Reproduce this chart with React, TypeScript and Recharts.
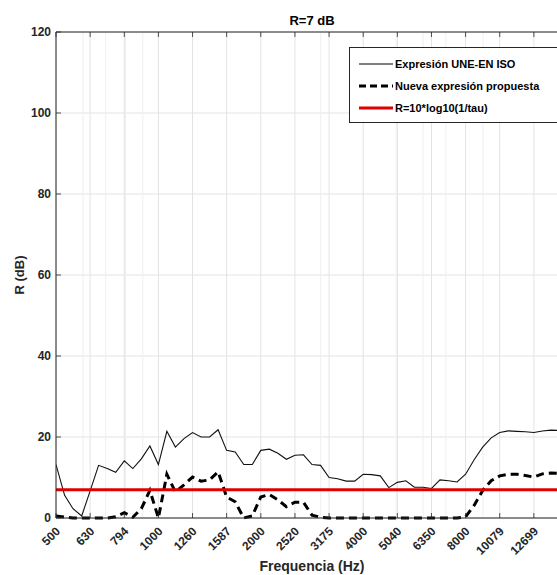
import React from "react";
import {
  CartesianGrid,
  Label,
  Legend,
  Line,
  LineChart,
  ReferenceLine,
  XAxis,
  YAxis,
} from "recharts";

// 1/12 octave bands, 500 Hz .. 16 kHz
const freqs = [
  500, 530, 561, 595, 630, 667, 707, 749, 794, 841, 891, 944, 1000, 1059, 1122,
  1189, 1260, 1335, 1414, 1498, 1587, 1682, 1782, 1888, 2000, 2119, 2245, 2378,
  2520, 2670, 2828, 2997, 3175, 3364, 3564, 3775, 4000, 4238, 4490, 4757, 5040,
  5339, 5657, 5993, 6350, 6727, 7127, 7551, 8000, 8476, 8980, 9514, 10079,
  10679, 11314, 11987, 12699, 13454, 14254, 15102, 16000,
];

const uneIso = [
  13.2, 5.6, 2.3, 0.5, 6.7, 13.0, 12.2, 11.3, 14.1, 12.2, 14.6, 17.8, 13.2,
  21.4, 17.5, 19.6, 21.1, 20.0, 20.0, 21.8, 16.7, 16.3, 13.2, 13.2, 16.7, 17.0,
  16.0, 14.5, 15.5, 15.6, 13.2, 13.0, 10.0, 9.7, 9.1, 9.1, 10.8, 10.7, 10.4,
  7.5, 8.8, 9.2, 7.6, 7.6, 7.3, 9.4, 9.2, 8.9, 10.8, 14.4, 17.5, 19.8, 21.1,
  21.5, 21.4, 21.3, 21.1, 21.5, 21.7, 21.6, 21.6,
];

const nuevaExpr = [
  0.5, 0.2, 0, 0, 0, 0, 0, 0.3, 1.3, 0.2, 2.3, 6.8, 0, 10.8, 6.4, 8.2, 10.1,
  9.1, 9.4, 11.4, 5.2, 4.0, 0, 0.5, 5.2, 5.8, 4.5, 2.8, 3.9, 3.9, 0.7, 0.2, 0,
  0, 0, 0, 0, 0, 0, 0, 0, 0, 0, 0, 0, 0, 0, 0, 0.3, 3.1, 6.8, 9.2, 10.4, 10.8,
  10.8, 10.5, 10.1, 10.9, 11.1, 11.0, 11.0,
];

const rTau = 7;

const freqTicks = [
  500, 630, 794, 1000, 1260, 1587, 2000, 2520, 3175, 4000, 5040, 6350, 8000,
  10079, 12699,
];
const minorGrid = [600, 700, 800, 900, 3000, 5000, 6000, 7000, 9000];
const rTicks = [0, 20, 40, 60, 80, 100, 120];

const data = freqs.map((f, i) => ({
  f,
  une: uneIso[i],
  nueva: nuevaExpr[i],
  r: rTau,
}));

const font = "'Liberation Sans', Arial, sans-serif";
const axisColor = "#262626";

const legendItems = [
  { label: "Expresión UNE-EN ISO", color: "#000", width: 1, dash: undefined },
  { label: "Nueva expresión propuesta", color: "#000", width: 3, dash: "7 4" },
  { label: "R=10*log10(1/tau)", color: "#e00000", width: 3, dash: undefined },
];

const BottomTick = (props: any) => {
  const { x, y, payload } = props;
  const tx = x + 5;
  const ty = y + 14;
  return (
    <g>
      <line x1={x} y1={y} x2={x} y2={y - 5} stroke={axisColor} strokeWidth={0.8} />
      <text
        x={tx}
        y={ty}
        textAnchor="end"
        transform={`rotate(-45, ${tx}, ${ty})`}
        fill={axisColor}
        fontSize={12}
        fontWeight="bold"
        fontFamily={font}
      >
        {payload.value}
      </text>
    </g>
  );
};

const TopTick = (props: any) => {
  const { x, y } = props;
  return <line x1={x} y1={y} x2={x} y2={y + 5} stroke={axisColor} strokeWidth={0.8} />;
};

const LeftTick = (props: any) => {
  const { x, y, payload } = props;
  return (
    <g>
      <line x1={x} y1={y} x2={x + 5} y2={y} stroke={axisColor} strokeWidth={0.8} />
      <text
        x={x - 5}
        y={y + 4}
        textAnchor="end"
        fill={axisColor}
        fontSize={12}
        fontWeight="bold"
        fontFamily={font}
      >
        {payload.value}
      </text>
    </g>
  );
};

const LegendBox = () => (
  <div
    style={{
      background: "#fff",
      border: `1px solid ${axisColor}`,
      width: 214,
      padding: "5px 0 3px 0",
      fontFamily: font,
      fontWeight: "bold",
      fontSize: 11,
      color: "#000",
    }}
  >
    {legendItems.map((it) => (
      <div key={it.label} style={{ display: "flex", alignItems: "center", height: 22 }}>
        <svg width={45} height={10}>
          <line
            x1={9}
            x2={43}
            y1={5}
            y2={5}
            stroke={it.color}
            strokeWidth={it.width}
            strokeDasharray={it.dash}
          />
        </svg>
        <span>{it.label}</span>
      </div>
    ))}
  </div>
);

export default function App() {
  return (
    <div
      style={{
        position: "fixed",
        left: 0,
        top: 0,
        width: 557,
        height: 575,
        overflow: "hidden",
        background: "#fff",
      }}
    >
      <LineChart
        width={580}
        height={575}
        data={data}
        margin={{ top: 0, right: 12, bottom: 0, left: 0 }}
      >
        <CartesianGrid stroke="#e3e3e3" strokeWidth={1} />
        {minorGrid.map((m) => (
          <ReferenceLine key={m} x={m} stroke="#efefef" strokeWidth={1} />
        ))}
        <XAxis
          dataKey="f"
          type="number"
          scale="log"
          domain={[500, 16000]}
          ticks={freqTicks}
          allowDataOverflow
          height={57}
          tickSize={0}
          tickMargin={0}
          tick={<BottomTick />}
          axisLine={{ stroke: axisColor }}
          interval={0}
        >
          <Label
            value="Frequencia (Hz)"
            position="insideBottom"
            offset={4}
            fill={axisColor}
            fontSize={14}
            fontWeight="bold"
            fontFamily={font}
          />
        </XAxis>
        <XAxis
          xAxisId="top"
          orientation="top"
          dataKey="f"
          type="number"
          scale="log"
          domain={[500, 16000]}
          ticks={freqTicks}
          allowDataOverflow
          height={32}
          tickSize={0}
          tickMargin={0}
          tick={<TopTick />}
          axisLine={{ stroke: axisColor }}
          interval={0}
        >
          <Label
            value="R=7 dB"
            position="insideBottom"
            offset={7}
            fill="#000"
            fontSize={13}
            fontWeight="bold"
            fontFamily={font}
          />
        </XAxis>
        <YAxis
          type="number"
          domain={[0, 120]}
          ticks={rTicks}
          width={56}
          tickSize={0}
          tickMargin={0}
          tick={<LeftTick />}
          axisLine={{ stroke: axisColor }}
          interval={0}
        >
          <Label
            value="R (dB)"
            angle={-90}
            position="insideLeft"
            offset={19}
            fill={axisColor}
            fontSize={13}
            fontWeight="bold"
            fontFamily={font}
            style={{ textAnchor: "middle" }}
          />
        </YAxis>
        <Legend
          layout="horizontal"
          verticalAlign="middle"
          align="center"
          content={<LegendBox />}
          wrapperStyle={{ top: 47, left: 349, width: 216, height: "auto" }}
        />
        <Line
          dataKey="une"
          stroke="#111"
          strokeWidth={1.1}
          dot={false}
          isAnimationActive={false}
        />
        <Line
          dataKey="nueva"
          stroke="#000"
          strokeWidth={3}
          strokeDasharray="8 5"
          dot={false}
          isAnimationActive={false}
        />
        <Line
          dataKey="r"
          stroke="#e00000"
          strokeWidth={3}
          dot={false}
          isAnimationActive={false}
        />
      </LineChart>
    </div>
  );
}
